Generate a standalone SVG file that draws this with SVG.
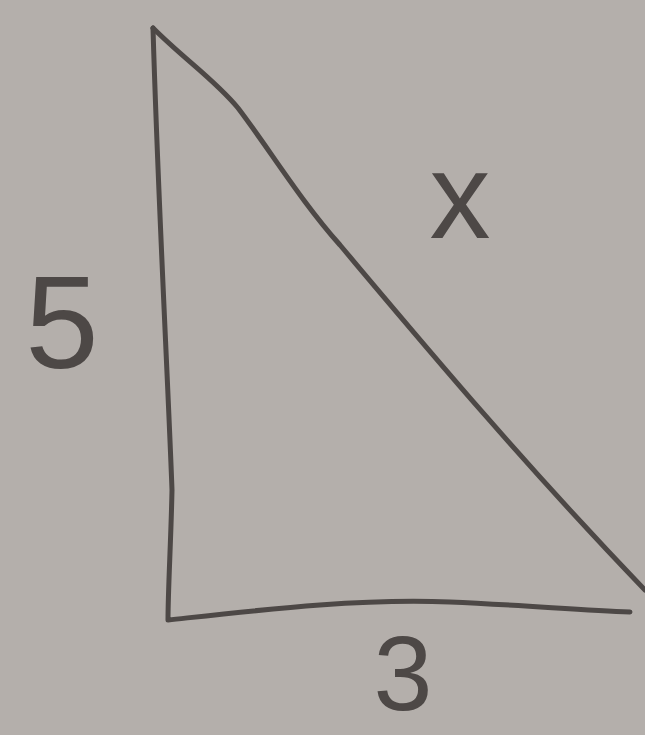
<svg xmlns="http://www.w3.org/2000/svg" width="645" height="735" viewBox="0 0 645 735">
<style>
.ln{fill:none;stroke:#4d4846;stroke-width:5;stroke-linecap:round;stroke-linejoin:round}
.lb{font-family:"Liberation Sans",Arial,sans-serif;fill:#4d4846}
</style>
<rect width="645" height="735" fill="#b4afab"/>
<g id="triangle">
<path class="ln" d="M153,28 C158,200 168,380 172,490 C171,540 168,590 168,620 C260,610 360,598 450,602 C520,605 580,610 630,612"/>
<path class="ln" d="M153,28 C185,60 215,80 238,108 C270,150 300,200 340,245 C420,340 520,460 645,590"/>
</g>
<g id="labels">
<text class="lb" x="62" y="368" font-size="132" text-anchor="middle">5</text>
<text class="lb" x="460" y="238" font-size="122" text-anchor="middle">x</text>
<text class="lb" x="403" y="710" font-size="106" text-anchor="middle">3</text>
</g>
</svg>
